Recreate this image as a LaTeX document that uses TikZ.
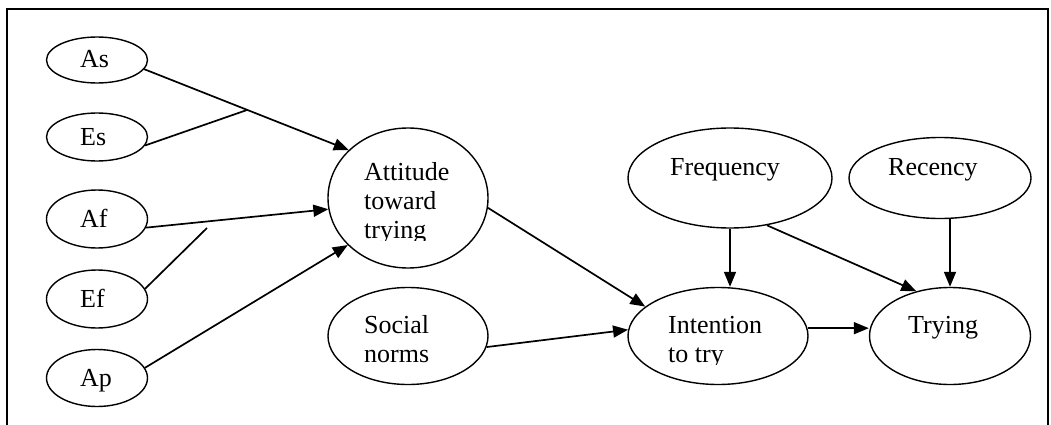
\documentclass[tikz,border=0pt]{standalone}
\usepackage{fontspec}
\setmainfont{Liberation Serif}
\usetikzlibrary{arrows.meta,shapes.geometric}
\begin{document}
\begin{tikzpicture}[x=1pt,y=-1pt,
  oval/.style={draw, ellipse, line width=1.4pt, inner sep=0pt},
  lbl/.style={anchor=base west, inner sep=0pt, font=\fontsize{26}{30}\selectfont},
  link/.style={line width=1.7pt, -{Triangle[length=15pt,width=12pt]}},
  bare/.style={line width=1.7pt}]

\useasboundingbox (0,0) rectangle (1051,425);
% open frame (no bottom edge)
\draw[line width=1.8pt] (7,425) -- (7,9) -- (1048,9) -- (1048,425);

% left-hand belief/evaluation ovals
\node[oval, minimum width=101pt, minimum height=46pt] (As) at (97,60) {};
\node[oval, minimum width=101pt, minimum height=48pt] (Es) at (97,137) {};
\node[oval, minimum width=101pt, minimum height=58pt] (Af) at (97,219) {};
\node[oval, minimum width=101pt, minimum height=58pt] (Ef) at (97,299) {};
\node[oval, minimum width=101pt, minimum height=57pt] (Ap) at (97,378) {};
\node[lbl] (AsT) at (80,68) {As};
\node[lbl] (EsT) at (80,146) {Es};
\node[lbl] (AfT) at (80,227) {Af};
\node[lbl] (EfT) at (80,307) {Ef};
\node[lbl] (ApT) at (80,386) {Ap};

% main constructs
\node[oval, minimum width=160pt, minimum height=140pt] (Att) at (408,198) {};
\node[oval, minimum width=160pt, minimum height=97pt] (Soc) at (408,336) {};
\node[oval, minimum width=180pt, minimum height=97pt] (Int) at (718,336) {};
\node[oval, minimum width=161pt, minimum height=97pt] (Try) at (950,336) {};
\node[oval, minimum width=204pt, minimum height=100pt] (Freq) at (730,178) {};
\node[oval, minimum width=182pt, minimum height=81pt] (Rec) at (940,178) {};

\node[lbl] (AttT1) at (364,180) {Attitude};
\node[lbl] (AttT2) at (364,209) {toward};
\begin{scope}
  \clip (360,215) rectangle (470,240);
  \node[lbl] (AttT3) at (364,238) {trying};
\end{scope}
\node[lbl] (SocT1) at (364,333) {Social};
\node[lbl] (SocT2) at (364,362) {norms};
\node[lbl] (IntT1) at (668,333) {Intention};
\begin{scope}
  \clip (664,338) rectangle (780,364);
  \node[lbl] (IntT2) at (668,362) {to try};
\end{scope}
\node[lbl] (TryT) at (908,333) {Trying};
\node[lbl] (FreqT) at (670,175) {Frequency};
\node[lbl] (RecT) at (888,175) {Recency};

% junction points of the paired inputs
\coordinate (J1) at (247,110);
\coordinate (J2) at (207,228);

% connectors
\draw[link] (As.-11) -- (Att.141);
\draw[bare] (Es.-10) -- (J1);
\draw[link] (Af.-10) -- (Att.188);
\draw[bare] (Ef.12) -- (J2);
\draw[link] (Ap.12) -- (Att.218);
\draw[link] (Att.-7) -- (Int.158);
\draw[link] (Soc.-8) -- (Int.176);
\draw[link] (Freq.south) -- (Freq.south |- Int.north);
\draw[link] (Freq.-52) -- (Try.127);
\draw[link] (Rec.south -| Try.north) -- (Try.north);
\draw[link] (Int.5) -- (Int.5 -| Try.west);
\end{tikzpicture}
\end{document}
